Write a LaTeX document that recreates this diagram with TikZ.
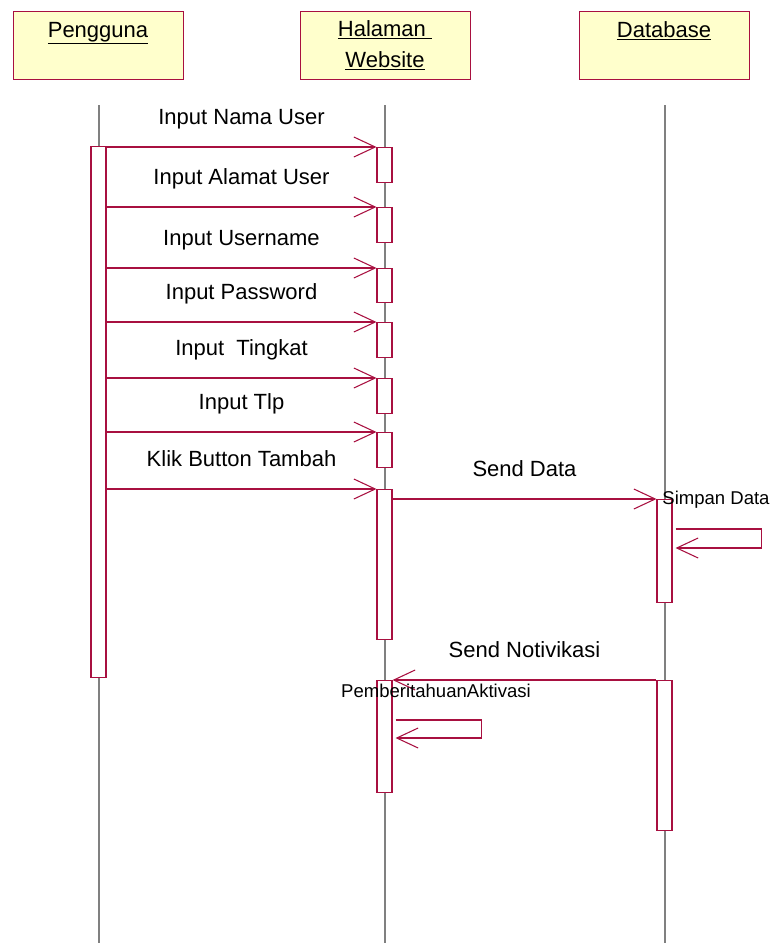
\documentclass[tikz,border=0pt]{standalone}
\usepackage{fontspec}
\setmainfont{Liberation Sans}
\usetikzlibrary{arrows.meta,calc}
\definecolor{umlred}{RGB}{168,16,64}
\definecolor{umlyellow}{RGB}{255,255,204}

\begin{document}
\begin{tikzpicture}[x=0.75pt,y=-0.75pt]
    \tikzstyle{head}=[draw=umlred, fill=umlyellow, minimum width=127.5pt, minimum height=51pt, inner sep=0pt, align=center, font=\fontsize{16.5}{23.25}\selectfont]
    \tikzstyle{bar}=[draw=umlred, fill=white, line width=0.8pt, minimum width=11.25pt, inner sep=0pt, anchor=north]
    \tikzstyle{lifeline}=[draw=gray, line width=0.8pt]
    \tikzstyle{msg}=[draw=umlred, line width=0.8pt, -{Straight Barb[length=16pt,width=15pt]}]
    \tikzstyle{lbl}=[font=\fontsize{16.5}{20}\selectfont, midway, anchor=base, yshift=17pt]
    \tikzstyle{small}=[font=\fontsize{13.9}{16}\selectfont]
    \useasboundingbox (0,0) rectangle (776,943);
    \node[head] (pengguna) at (98,45) {\underline{Pengguna}\\\mbox{}};
    \node[head] (halaman) at (385,45) {\underline{Halaman\ }\\\underline{Website}};
    \node[head] (database) at (664,45) {\underline{Database}\\\mbox{}};
    \coordinate (pgtop) at (99,105);
    \coordinate (pgend) at (99,943);
    \coordinate (hltop) at (385,105);
    \coordinate (hlend) at (385,943);
    \coordinate (dbtop) at (665,105);
    \coordinate (dbend) at (665,943);
    \draw[lifeline] (pgtop) -- (pgend);
    \draw[lifeline] (hltop) -- (hlend);
    \draw[lifeline] (dbtop) -- (dbend);
    % activation bars
    \node[bar, minimum height=398.25pt] (pg) at (98.5,146) {};
    \node[bar, minimum height=26.25pt] (h1) at (384.5,147) {};
    \node[bar, minimum height=26.25pt] (h2) at (384.5,207) {};
    \node[bar, minimum height=25.5pt] (h3) at (384.5,268) {};
    \node[bar, minimum height=26.25pt] (h4) at (384.5,322) {};
    \node[bar, minimum height=26.25pt] (h5) at (384.5,378) {};
    \node[bar, minimum height=26.25pt] (h6) at (384.5,432) {};
    \node[bar, minimum height=112.5pt] (h7) at (384.5,489) {};
    \node[bar, minimum height=84pt] (h8) at (384.5,680) {};
    \node[bar, minimum height=77.25pt] (d1) at (664.5,499) {};
    \node[bar, minimum height=112.5pt] (d2) at (664.5,680) {};
    % messages
    \draw[msg] (pg.east |- h1.north west) -- node[lbl]{Input Nama User} (h1.north west);
    \draw[msg] (pg.east |- h2.north west) -- node[lbl]{Input Alamat User} (h2.north west);
    \draw[msg] (pg.east |- h3.north west) -- node[lbl]{Input Username} (h3.north west);
    \draw[msg] (pg.east |- h4.north west) -- node[lbl]{Input Password} (h4.north west);
    \draw[msg] (pg.east |- h5.north west) -- node[lbl]{Input \ Tingkat} (h5.north west);
    \draw[msg] (pg.east |- h6.north west) -- node[lbl]{Input Tlp} (h6.north west);
    \draw[msg] (pg.east |- h7.north west) -- node[lbl]{Klik Button Tambah} (h7.north west);
    \draw[msg] (h7.east |- d1.north west) -- node[lbl]{Send Data} (d1.north west);
    \draw[msg] (d2.north west) -- node[lbl]{Send Notivikasi} (h8.north east);
    % self calls
    \draw[msg] ($(d1.north east)+(3,30)$) -- ++(86,0) -- ++(0,19) -- ($(d1.north east)+(3,49)$);
    \node[small] (simpan) at (716,500) {Simpan Data};
    \draw[msg] ($(h8.north east)+(3,40)$) -- ++(86,0) -- ++(0,18) -- ($(h8.north east)+(3,58)$);
    \node[small] (aktivasi) at (436,691) {PemberitahuanAktivasi};
\end{tikzpicture}
\end{document}
